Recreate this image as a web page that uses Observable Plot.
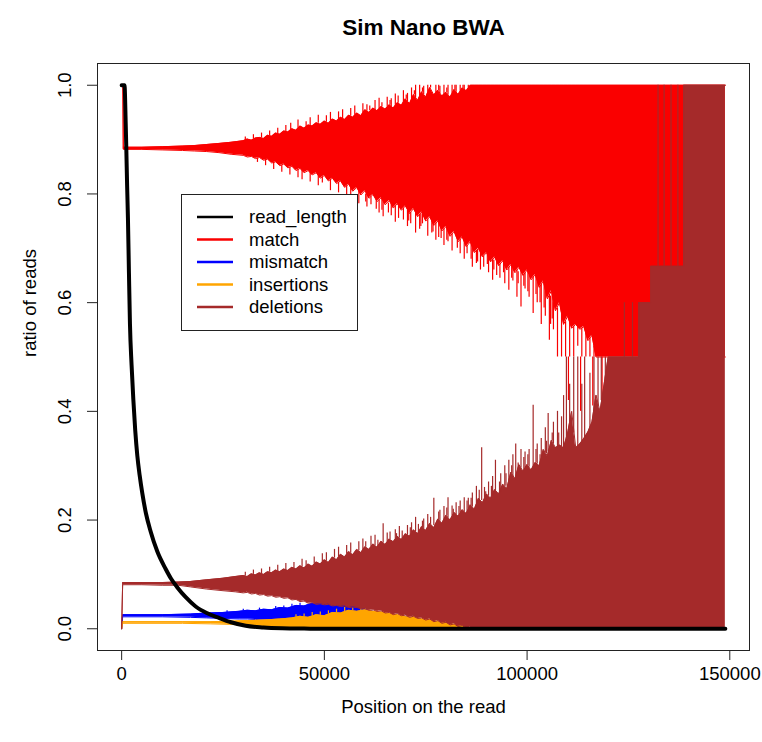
<!DOCTYPE html>
<html><head><meta charset="utf-8">
<script src="https://cdn.jsdelivr.net/npm/d3@7"></script>
<script src="https://cdn.jsdelivr.net/npm/@observablehq/plot@0.6"></script>
<style>
body{margin:0;background:#fff;}
#wrap{position:relative;width:762px;height:742px;font-family:"Liberation Sans",Arial,sans-serif;}
#legend{position:absolute;left:181px;top:194px;}
</style></head><body><div id="wrap"></div>
<script>
const title = "Sim Nano BWA";
const xLabel = "Position on the read";
const yLabel = "ratio of reads";
const xTicks = [0, 50000, 100000, 150000];
const yTicks = [0, 0.2, 0.4, 0.6, 0.8, 1.0];
const seriesNames = ["read_length", "match", "mismatch", "insertions", "deletions"];
const seriesColors = ["#000000", "#fa0000", "#0000ff", "#ffa500", "#a52a2a"];

// read_length: [position, ratio]
const readLength = [[0,1.0],[700,1.0],[1000,0.93],[1160,0.88],[1350,0.815],[1550,0.756],[1800,0.655],[2050,0.561],[2450,0.485],[2880,0.422],[3350,0.365],[3870,0.318],[4450,0.282],[5100,0.249],[6000,0.212],[7150,0.179],[8800,0.142],[10860,0.11],[12200,0.092],[13740,0.076],[15800,0.058],[18260,0.041],[21000,0.029],[24000,0.02],[27000,0.012],[30600,0.0055],[35000,0.0025],[39600,0.001],[45000,0.0003],[50000,0],[148900,0]];

// dense noisy series read as bands: [position, low, high]
const matchBand = [[0,1,1],[300,1,1],[400,0.882,0.886],[5000,0.882,0.886],[10000,0.881,0.887],[15000,0.88,0.888],[18000,0.879,0.889],[21000,0.878,0.891],[24000,0.876,0.893],[27000,0.873,0.895],
[30000,0.871,0.898],[31000,0.868,0.901],[32000,0.869,0.899],[33000,0.865,0.903],[34000,0.867,0.904],[35000,0.862,0.902],[36000,0.864,0.908],[37000,0.857,0.906],[38000,0.859,0.912],[39000,0.852,0.91],
[40000,0.855,0.916],[41000,0.848,0.914],[42000,0.851,0.92],[43000,0.843,0.917],[44000,0.847,0.925],[45000,0.839,0.921],[46000,0.843,0.927],[47000,0.835,0.925],[48000,0.839,0.931],[49000,0.829,0.928],
[50000,0.834,0.934],[51000,0.824,0.93],[52000,0.829,0.938],[53000,0.819,0.934],[54000,0.824,0.941],[55000,0.812,0.937],[56000,0.818,0.945],[57000,0.805,0.941],[58000,0.812,0.949],[59000,0.798,0.944],
[60000,0.806,0.955],[61000,0.792,0.95],[62000,0.799,0.958],[63000,0.786,0.953],[64000,0.793,0.961],[65000,0.78,0.956],[66000,0.788,0.964],[67000,0.774,0.958],[68000,0.782,0.968],[69000,0.77,0.963],
[70000,0.778,0.975],[71000,0.764,0.966],[72000,0.773,0.983],[73000,0.758,0.972],[74000,0.767,0.988],[75000,0.75,0.978],[76000,0.758,0.996],[77000,0.742,0.982],[78000,0.75,0.991],[79000,0.732,0.98],
[80000,0.74,0.987],[81000,0.722,0.978],[82000,0.731,0.992],[83000,0.712,0.983],[84000,0.721,0.995],[85000,0.703,0.99],[86000,0.712,1],[87000,0.692,1],[88000,0.7,1],[89000,0.684,1],
[90000,0.692,1],[91000,0.675,1],[92000,0.684,1],[93000,0.668,1],[94000,0.677,1],[95000,0.66,1],[96000,0.67,1],[97000,0.655,1],[98000,0.665,1],[99000,0.65,1],
[100000,0.66,1],[101000,0.642,1],[102000,0.652,1],[103000,0.628,1],[104000,0.64,1],[105000,0.607,1],[106000,0.622,1],[107000,0.585,1],[108000,0.6,1],[109000,0.56,1],
[110000,0.575,1],[111000,0.553,1],[112000,0.56,1],[113000,0.551,1],[114000,0.556,1],[115000,0.53,1],[116000,0.54,1],[117000,0.5,1],[148900,0.5,1]];
// outlying spikes: [position, from, to]
const matchSpikes = [[30500,0.899,0.905],[32500,0.901,0.909],[34500,0.903,0.912],[36500,0.907,0.916],[38500,0.911,0.921],[40500,0.915,0.926],[41700,0.915,0.93],[43500,0.921,0.936],[45500,0.924,0.933],[46500,0.926,0.94],[48500,0.93,0.945],[50500,0.932,0.944],[51500,0.934,0.95],[53500,0.937,0.951],[54500,0.939,0.955],[56500,0.943,0.957],[57500,0.945,0.962],[59500,0.949,0.966],[60500,0.952,0.964],[62500,0.955,0.972],[63500,0.957,0.976],[65500,0.96,0.978],[66500,0.961,0.975],[67500,0.963,0.984],[69500,0.966,0.99],[70500,0.97,0.985],[71500,0.974,0.995],[72500,0.977,1],[73500,0.98,1],[74500,0.983,0.998],[75500,0.987,1],[77500,0.986,1],[78500,0.985,0.998],[79500,0.983,1],[80500,0.982,1],[81500,0.985,1],[82500,0.987,1],[83500,0.989,1],[84500,0.992,1],[85500,0.995,1],
[61200,0.953,0.962],[64200,0.96,0.968],[66200,0.963,0.972],[68200,0.967,0.98],[70200,0.974,0.982],[72200,0.982,0.99],[74200,0.987,0.995],[76200,0.995,1],[78200,0.99,1],[80200,0.986,0.995],[82200,0.99,1],[84200,0.994,1],
[33500,0.866,0.858],[35500,0.863,0.852],[37500,0.858,0.845],[39500,0.853,0.84],[41500,0.849,0.835],[43500,0.845,0.83],[44500,0.843,0.826],[46500,0.839,0.822],[48500,0.834,0.815],[49500,0.831,0.82],[51500,0.826,0.806],[53500,0.821,0.802],[55500,0.815,0.792],[56500,0.812,0.798],[58500,0.805,0.782],[60500,0.799,0.776],[61500,0.795,0.78],[63500,0.789,0.765],[64500,0.786,0.758],[66500,0.781,0.76],[67500,0.778,0.748],[69500,0.774,0.752],[70500,0.77,0.74],[72500,0.765,0.728],[73500,0.762,0.735],[75500,0.754,0.722],[76500,0.75,0.728],[77500,0.746,0.715],[79500,0.736,0.705],[80500,0.731,0.712],[81500,0.726,0.695],[83500,0.716,0.69],[84500,0.712,0.68],[86500,0.702,0.665],[87500,0.696,0.672],[88500,0.692,0.66],[90500,0.688,0.655],[91500,0.68,0.641],[92500,0.676,0.65],[94500,0.672,0.635],[95500,0.665,0.623],[96500,0.662,0.64],[97500,0.66,0.61],[98500,0.658,0.592],[99500,0.655,0.625],[100500,0.65,0.61],[101500,0.647,0.58],[102500,0.64,0.6],[103500,0.634,0.56],[104500,0.625,0.575],[105500,0.615,0.531],[106500,0.6,0.55],[107500,0.59,0.5],[108500,0.58,0.5],[109500,0.565,0.5],[110500,0.565,0.5],[111500,0.556,0.5],[112500,0.556,0.52],[113500,0.553,0.5],[114500,0.553,0.5],[115500,0.535,0.5],[116500,0.52,0.5],
[60200,0.8,0.785],[62800,0.79,0.772],[64200,0.79,0.77],[65800,0.783,0.765],[68300,0.777,0.755],[70800,0.768,0.75],[71300,0.766,0.745],[73800,0.763,0.74],[74200,0.765,0.745],[76800,0.747,0.73],[78200,0.748,0.72],[78800,0.738,0.718],[80200,0.738,0.715],[82800,0.715,0.7],[85200,0.705,0.69],[86200,0.71,0.68],[87800,0.698,0.675],[89300,0.686,0.665],[90200,0.69,0.67],[91800,0.678,0.66],[93300,0.67,0.645],[94200,0.675,0.655],[96200,0.668,0.645],[97800,0.657,0.635],[99200,0.652,0.63],[100200,0.658,0.62],[102200,0.65,0.615],[103200,0.63,0.6],[104200,0.638,0.59],[105800,0.612,0.56],[106200,0.62,0.57],
[110200,0.5,0.42],[113200,0.5,0.4],[116200,0.5,0.41],[118500,0.5,0.4],[127800,0.5,0.4],[130000,0.5,0.4]];

const mismatchBand = [[0,0,0],[250,0.022,0.026],[10000,0.022,0.026],[17000,0.021,0.027],[21000,0.02,0.029],[25000,0.019,0.03],[29000,0.018,0.032],[31000,0.018,0.034],[33000,0.017,0.033],[35000,0.016,0.036],[37000,0.016,0.035],[39000,0.015,0.039],[41000,0.015,0.038],[43000,0.014,0.043],[45000,0.014,0.042],[47000,0.014,0.047],[49000,0.014,0.046],[51000,0.014,0.05],[53000,0.014,0.049],[55000,0.014,0.051],[57000,0.014,0.05],[59000,0.014,0.046],[60000,0.014,0.036],[63000,0.012,0.03],[66000,0.01,0.026],[70000,0.008,0.022],[75000,0.005,0.015],[80000,0.003,0.01],[85000,0,0]];
const mismatchSpikes = [[20000,0.029,0.031],[26000,0.03,0.033],[30000,0.033,0.036],[34000,0.034,0.038],[38000,0.037,0.041],[40000,0.038,0.042],[42000,0.04,0.045],[44000,0.042,0.047]];

const insertionBand = [[0,0,0],[250,0.01,0.013],[15000,0.01,0.013],[22000,0.009,0.013],[27000,0.008,0.014],[31000,0.006,0.015],[35000,0.004,0.016],[39000,0.002,0.018],[42000,0,0.02],[44000,0,0.023],[46000,0,0.021],[48000,0,0.026],[50000,0,0.024],[52000,0,0.03],[54000,0,0.029],[56000,0,0.034],[58000,0,0.032],[60000,0,0.035],[62000,0,0.032],[64000,0,0.031],[66000,0,0.028],[68000,0,0.026],[70000,0,0.022],[72000,0,0.021],[74000,0,0.018],[76000,0,0.017],[78000,0,0.013],[80000,0,0.012],[82000,0,0.008],[84000,0,0.006],[86000,0,0]];
const insertionSpikes = [[43000,0.021,0.026],[45000,0.022,0.027],[47000,0.024,0.03],[49000,0.025,0.031],[51000,0.027,0.033],[53000,0.03,0.036],[55000,0.031,0.039],[57000,0.033,0.038],[59000,0.033,0.04],[61000,0.033,0.038],[63000,0.031,0.036],[66500,0.027,0.033],[69500,0.022,0.028],[72000,0.02,0.024],[75500,0.017,0.02],[78000,0.013,0.017],[80500,0.01,0.017],[83700,0.006,0.018],[85500,0,0.02]];

const deletionBand = [[0,0,0],[250,0.081,0.085],[5000,0.081,0.085],[10000,0.08,0.085],[14000,0.08,0.086],[17000,0.077,0.087],[21000,0.073,0.09],[25000,0.07,0.093],[28000,0.068,0.096],
[30000,0.066,0.098],[31000,0.067,0.096],[32000,0.064,0.101],[33000,0.065,0.099],[34000,0.062,0.103],[35000,0.063,0.1],[36000,0.06,0.105],[37000,0.061,0.103],[38000,0.058,0.108],[39000,0.059,0.105],
[40000,0.056,0.11],[41000,0.057,0.107],[42000,0.053,0.113],[43000,0.054,0.11],[44000,0.05,0.116],[45000,0.051,0.112],[46000,0.047,0.119],[47000,0.048,0.115],[48000,0.045,0.123],[49000,0.046,0.119],
[50000,0.044,0.127],[51000,0.045,0.122],[52000,0.042,0.132],[53000,0.043,0.127],[54000,0.041,0.137],[55000,0.042,0.132],[56000,0.039,0.142],[57000,0.04,0.136],[58000,0.039,0.146],[59000,0.037,0.14],
[60000,0.037,0.151],[61000,0.034,0.146],[62000,0.035,0.156],[63000,0.032,0.15],[64000,0.033,0.161],[65000,0.029,0.155],[66000,0.03,0.165],[67000,0.026,0.16],[68000,0.028,0.17],[69000,0.024,0.164],
[70000,0.025,0.175],[71000,0.021,0.17],[72000,0.023,0.182],[73000,0.019,0.175],[74000,0.02,0.188],[75000,0.016,0.181],[76000,0.018,0.194],[77000,0.013,0.186],[78000,0.015,0.202],[79000,0.01,0.194],
[80000,0.012,0.209],[81000,0.007,0.2],[82000,0.009,0.214],[83000,0.004,0.207],[84000,0.006,0.219],[85000,0.001,0.212],[86000,0.003,0.228],[87000,0,0.22],[88000,0,0.24],[89000,0,0.232],
[90000,0,0.248],[91000,0,0.24],[92000,0,0.256],[93000,0,0.248],[94000,0,0.266],[95000,0,0.258],[96000,0,0.288],[97000,0,0.276],[98000,0,0.302],[99000,0,0.29],
[100000,0,0.302],[101000,0,0.292],[102000,0,0.306],[103000,0,0.3],[104000,0,0.33],[105000,0,0.318],[106000,0,0.347],[107000,0,0.333],[108000,0,0.338],[109000,0,0.333],
[110000,0,0.36],[111000,0,0.4],[112000,0,0.333],[113000,0,0.34],[114000,0,0.35],[115000,0,0.362],[116000,0,0.38],[117000,0,0.43],[118000,0,0.4],[119000,0,0.45],
[120000,0,0.5],[127500,0,0.5],[127500,0,0.6],[130500,0,0.6],[130500,0,0.667],[138600,0,0.667],[138600,0,1],[148900,0,1]];
const deletionSpikes = [[30500,0.097,0.104],[32500,0.1,0.108],[34500,0.101,0.11],[36500,0.104,0.113],[38500,0.106,0.117],[40500,0.108,0.12],[42500,0.111,0.122],[44500,0.114,0.128],[45500,0.115,0.125],[47500,0.119,0.132],[49500,0.123,0.138],[50500,0.124,0.14],[52500,0.13,0.146],[53500,0.132,0.15],[55500,0.137,0.153],[56500,0.139,0.158],[58500,0.143,0.16],[59500,0.145,0.165],[61500,0.151,0.17],[62500,0.153,0.172],[64500,0.158,0.193],[65500,0.16,0.176],[67500,0.165,0.182],[68500,0.167,0.188],[70500,0.172,0.19],[71500,0.176,0.195],[72500,0.178,0.205],[74500,0.184,0.202],[75500,0.188,0.21],[77000,0.19,0.24],[78500,0.198,0.218],[79500,0.2,0.225],[80500,0.204,0.241],[81500,0.207,0.226],[82500,0.21,0.232],[83500,0.213,0.235],[84500,0.215,0.241],[85500,0.22,0.24],[86500,0.224,0.25],[87500,0.23,0.262],[88800,0.236,0.333],[89500,0.236,0.26],[90500,0.244,0.27],[91500,0.244,0.28],[92200,0.252,0.31],[93500,0.252,0.285],[94500,0.262,0.3],[95500,0.27,0.31],[96500,0.28,0.32],[97200,0.28,0.34],[98500,0.296,0.33],[99500,0.296,0.325],[100500,0.297,0.33],[101500,0.297,0.411],[102500,0.303,0.34],[103500,0.315,0.35],[104500,0.324,0.37],[105200,0.325,0.396],[106500,0.34,0.38],[107500,0.335,0.4],[108500,0.335,0.39],[109000,0.333,0.429],[109700,0.35,0.5],[110500,0.38,0.45],[111500,0.36,0.5],[112500,0.333,0.5],[113500,0.337,0.45],[114200,0.345,0.5],[115500,0.37,0.47],[116500,0.4,0.5],[117500,0.41,0.5],[118300,0.42,0.5],[119300,0.46,0.5],[124000,0.5,0.6],[126000,0.5,0.6],[132300,0.667,1],[133800,0.667,1],[135500,0.667,1],[137200,0.667,1],
[60200,0.15,0.16],[63200,0.151,0.163],[66200,0.164,0.178],[67800,0.162,0.175],[69200,0.165,0.18],[71200,0.171,0.186],[73200,0.176,0.192],[74200,0.186,0.198],[76200,0.192,0.205],[78200,0.2,0.215],[80200,0.208,0.222],[81800,0.203,0.22],[83200,0.209,0.225],[85200,0.212,0.235],[86200,0.226,0.24],[88200,0.238,0.255],[89800,0.235,0.252],[91200,0.241,0.262],[93200,0.25,0.27],[94800,0.262,0.285],[96200,0.285,0.3],[97800,0.28,0.305],[99200,0.292,0.315],[100200,0.3,0.32],[102200,0.305,0.33],[103200,0.302,0.32],[104800,0.322,0.345],[106200,0.345,0.36],[107800,0.336,0.36]];

function bandMarks(band, spikes, color) {
  return [
    Plot.area(band, {x1: d => d[0], y1: d => d[1], y2: d => d[2], fill: color}),
    Plot.line(band, {x: d => d[0], y: d => d[1], stroke: color, strokeWidth: 1}),
    Plot.line(band, {x: d => d[0], y: d => d[2], stroke: color, strokeWidth: 1}),
    Plot.ruleX(spikes, {x: d => d[0], y1: d => d[1], y2: d => d[2], stroke: color, strokeWidth: 1.2})
  ];
}

const font = "'Liberation Sans', Arial, sans-serif";
const chart = Plot.plot({
  width: 762, height: 742,
  marginLeft: 97, marginRight: 13, marginTop: 63, marginBottom: 92,
  x: {domain: [-5956, 154860]},
  y: {domain: [-0.04, 1.04]},
  style: {fontFamily: font, fontSize: "18.5px", background: "white", overflow: "visible"},
  marks: [
    ...bandMarks(matchBand, matchSpikes, seriesColors[1]),
    ...bandMarks(mismatchBand, mismatchSpikes, seriesColors[2]),
    ...bandMarks(insertionBand, insertionSpikes, seriesColors[3]),
    ...bandMarks(deletionBand, deletionSpikes, seriesColors[4]),
    Plot.line(readLength, {x: d => d[0], y: d => d[1], stroke: seriesColors[0], strokeWidth: 4, curve: "monotone-x"}),
    Plot.frame({stroke: "#222"}),
    Plot.axisX({ticks: xTicks, tickSize: 10, tickPadding: 6, tickFormat: d => String(d), fontSize: 18.5, label: null, stroke: "#222"}),
    Plot.axisY({ticks: yTicks, tickSize: 10, tickPadding: 17, tickRotate: -90, tickFormat: d => d.toFixed(1), fontSize: 18.5, label: null, stroke: "#222"}),
    Plot.text([title], {text: d => d, frameAnchor: "top", dy: -29, lineAnchor: "bottom", fontWeight: "bold", fontSize: 22.5}),
    Plot.text([xLabel], {text: d => d, frameAnchor: "bottom", dy: 62, lineAnchor: "bottom", fontSize: 18.5}),
    Plot.text([yLabel], {text: d => d, frameAnchor: "left", dx: -62, rotate: -90, lineAnchor: "bottom", fontSize: 18.5})
  ]
});
const wrap = document.getElementById("wrap");
wrap.appendChild(chart);

// legend (inside plot area, as in the reference)
const leg = d3.select(wrap).append("svg").attr("id", "legend")
  .attr("width", 178).attr("height", 138)
  .style("font-family", font).style("font-size", "18.5px");
leg.append("rect").attr("x", 0.5).attr("y", 0.5).attr("width", 176).attr("height", 136)
  .attr("fill", "white").attr("stroke", "#222");
seriesNames.forEach((name, i) => {
  const cy = 23 + i * 22.5;
  leg.append("line").attr("x1", 16).attr("x2", 52).attr("y1", cy).attr("y2", cy)
    .attr("stroke", seriesColors[i]).attr("stroke-width", 2.5);
  leg.append("text").attr("x", 68).attr("y", cy).attr("dy", "0.35em").text(name);
});
</script>
</body></html>
